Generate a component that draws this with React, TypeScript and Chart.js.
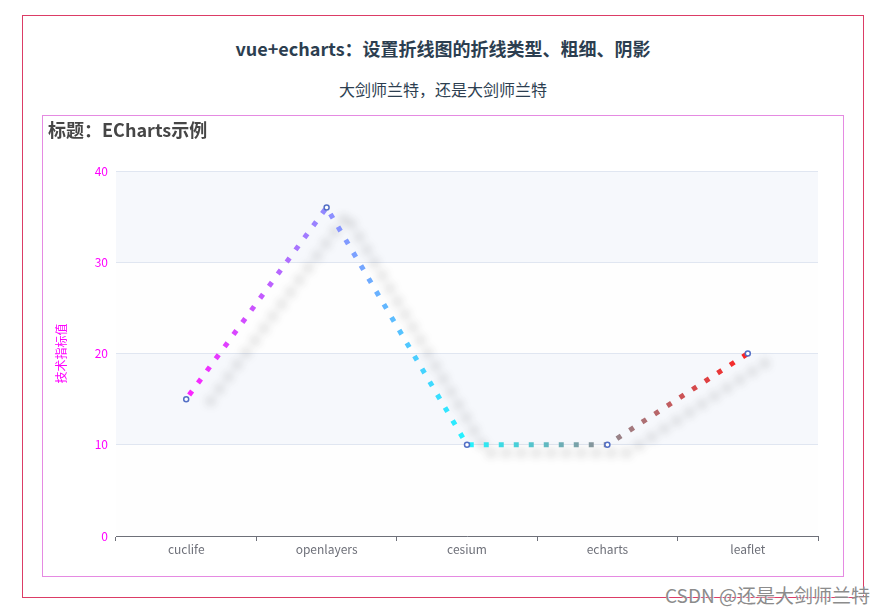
import React, { useEffect, useRef } from "react";
import { Chart, registerables } from "chart.js";

Chart.register(...registerables);

const categories = ["cuclife", "openlayers", "cesium", "echarts", "leaflet"];
const values = [15, 36, 10, 10, 20];
const yMin = 0;
const yMax = 40;
const yStep = 10;
const gradientStops = ["#ff22ff", "#22f4ff", "#ff2222"];
const splitColors = ["rgba(250,250,250,0.2)", "rgba(210,219,238,0.2)"];

const FONT = '"Microsoft YaHei", "Noto Sans CJK SC", "Noto Sans", sans-serif';

const splitAreaPlugin = {
  id: "splitArea",
  beforeDraw(chart: any) {
    const { ctx, chartArea, scales } = chart;
    if (!chartArea) return;
    const y = scales.y;
    ctx.save();
    let i = 0;
    for (let v = yMin; v < yMax; v += yStep) {
      const top = y.getPixelForValue(v + yStep);
      const bottom = y.getPixelForValue(v);
      ctx.fillStyle = splitColors[i % 2];
      ctx.fillRect(chartArea.left, top, chartArea.right - chartArea.left, bottom - top);
      i++;
    }
    ctx.restore();
  },
};

const shadowPlugin = {
  id: "lineShadow",
  beforeDatasetDraw(chart: any, args: any) {
    if (args.index !== 0) return;
    const ctx = chart.ctx;
    ctx.save();
    ctx.shadowColor = "rgba(0,0,0,0.4)";
    ctx.shadowBlur = 10;
    ctx.shadowOffsetX = 20;
    ctx.shadowOffsetY = 8;
  },
  afterDatasetDraw(chart: any, args: any) {
    if (args.index !== 0) return;
    chart.ctx.restore();
  },
};

function ChartBox() {
  const ref = useRef<HTMLCanvasElement | null>(null);
  useEffect(() => {
    if (!ref.current) return;
    const chart = new Chart(ref.current, {
      type: "line",
      data: {
        labels: categories,
        datasets: [
          {
            data: values,
            order: 1,
            borderWidth: 5,
            borderDash: [5, 10],
            borderDashOffset: -5,
            borderCapStyle: "butt",
            tension: 0,
            fill: false,
            pointRadius: 0,
            pointHoverRadius: 0,
            borderColor: (c: any) => {
              const chart = c.chart;
              const xs = chart.scales && chart.scales.x;
              if (!chart.chartArea || !xs) return gradientStops[0];
              const x0 = xs.getPixelForValue(0);
              const x1 = xs.getPixelForValue(categories.length - 1);
              const g = chart.ctx.createLinearGradient(x0, 0, x1, 0);
              gradientStops.forEach((col, i) => g.addColorStop(i / (gradientStops.length - 1), col));
              return g;
            },
          },
          {
            data: values,
            order: 0,
            showLine: false,
            pointRadius: 2.5,
            pointHoverRadius: 2.5,
            pointBorderWidth: 1.5,
            pointBorderColor: "#5470c6",
            pointBackgroundColor: "#ffffff",
          },
        ],
      },
      options: {
        animation: false,
        responsive: false,
        maintainAspectRatio: false,
        devicePixelRatio: 1,
        layout: { padding: { left: 0, right: 25, top: 55, bottom: 0 } },
        plugins: {
          legend: { display: false },
          tooltip: { enabled: false },
          title: { display: false },
        },
        scales: {
          x: {
            type: "category",
            offset: true,
            grid: {
              offset: true,
              drawOnChartArea: false,
              drawTicks: true,
              tickLength: 5,
              color: "#6E7079",
              lineWidth: 1,
            },
            border: { display: true, color: "#6E7079", width: 1 },
            ticks: {
              color: "#6E7079",
              font: { size: 12, family: FONT },
              padding: 1,
              maxRotation: 0,
              autoSkip: false,
            },
            afterFit: (s: any) => {
              s.height = 40;
            },
          },
          y: {
            min: yMin,
            max: yMax,
            ticks: {
              stepSize: yStep,
              color: "#ff00ff",
              padding: 8,
              font: { size: 12, family: FONT },
            },
            grid: { color: "#E0E6F1", drawTicks: false, lineWidth: 1 },
            border: { display: false },
            title: {
              display: true,
              text: "技术指标值",
              color: "#ff00ff",
              font: { size: 12, family: FONT },
              padding: { top: 11, bottom: 0 },
            },
            afterFit: (s: any) => {
              s.width = 73;
            },
          },
        },
      },
      plugins: [splitAreaPlugin, shadowPlugin],
    } as any);
    chart.update();
    return () => chart.destroy();
  }, []);
  return <canvas ref={ref} width={800} height={460} style={{ display: "block", width: 800, height: 460 }} />;
}

export default function App() {
  return (
    <div
      style={{
        position: "fixed",
        left: 0,
        top: 0,
        width: 888,
        height: 614,
        background: "#ffffff",
        fontFamily: FONT,
        overflow: "hidden",
      }}
    >
      <div
        style={{
          position: "absolute",
          left: 22,
          top: 15,
          width: 840,
          height: 581,
          border: "1px solid #dc3c66",
        }}
      />
      <div
        style={{
          position: "absolute",
          left: 22,
          width: 842,
          top: 36,
          lineHeight: "24px",
          fontSize: 18,
          fontWeight: "bold",
          color: "#2c3e50",
          textAlign: "center",
        }}
      >
        vue+echarts：设置折线图的折线类型、粗细、阴影
      </div>
      <div
        style={{
          position: "absolute",
          left: 22,
          width: 842,
          top: 78,
          lineHeight: "22px",
          fontSize: 16,
          color: "#2c3e50",
          textAlign: "center",
        }}
      >
        大剑师兰特，还是大剑师兰特
      </div>
      <div
        style={{
          position: "absolute",
          left: 42,
          top: 115,
          width: 800,
          height: 460,
          border: "1px solid #e58ae2",
        }}
      >
        <ChartBox />
        <div
          style={{
            position: "absolute",
            left: 5,
            top: 1,
            lineHeight: "24px",
            fontSize: 18,
            fontWeight: "bold",
            color: "#464646",
          }}
        >
          标题：ECharts示例
        </div>
      </div>
      <div
        style={{
          position: "absolute",
          right: 18,
          top: 583,
          lineHeight: "24px",
          fontSize: 19,
          color: "#8c8c8c",
          textShadow: "1px 1px 1px #ffffff",
          whiteSpace: "nowrap",
        }}
      >
        CSDN @还是大剑师兰特
      </div>
    </div>
  );
}
